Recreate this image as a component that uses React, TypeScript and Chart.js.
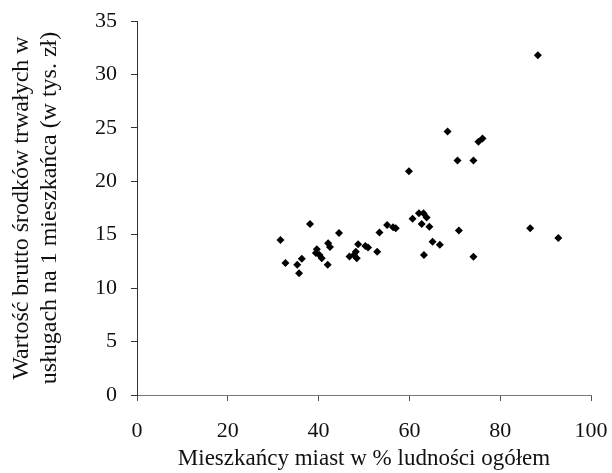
import React, { useEffect, useRef } from "react";
import { Chart, registerables } from "chart.js";

Chart.register(...registerables);

const xValues = [
  31.6, 32.7, 35.3, 36.3, 35.7, 38.1, 39.6, 39.4, 40.2, 40.7, 42.1, 42.5, 42.0, 44.5,
  46.8, 47.8, 48.2, 48.7, 48.4, 50.3, 50.9, 52.9, 53.4, 55.1, 56.4, 57.0, 59.9, 60.7,
  62.1, 63.1, 63.8, 62.7, 64.4, 63.2, 65.1, 66.7, 68.4, 70.6, 70.9, 74.1, 74.1, 75.2,
  76.1, 86.6, 88.3, 92.8,
];
const yValues = [
  14.5, 12.35, 12.2, 12.75, 11.4, 16.0, 13.65, 13.3, 13.1, 12.8, 14.2, 13.85, 12.2, 15.15,
  12.97, 13.1, 13.4, 14.1, 12.8, 13.95, 13.8, 13.4, 15.2, 15.9, 15.7, 15.6, 20.95, 16.5,
  17.0, 17.0, 16.6, 16.0, 15.75, 13.1, 14.35, 14.06, 24.66, 21.95, 15.4, 21.95, 12.94, 23.7,
  24.0, 15.6, 31.8, 14.7,
];
const xTicks = [0, 20, 40, 60, 80, 100];
const yTicks = [0, 5, 10, 15, 20, 25, 30, 35];
const xTitle = "Mieszkańcy miast w % ludności ogółem";
const yTitle = ["Wartość brutto środków trwałych w", "usługach na 1 mieszkańca (w tys. zł)"];

export default function App() {
  const ref = useRef<HTMLCanvasElement | null>(null);
  useEffect(() => {
    if (!ref.current) return;
    const family = "'Liberation Serif', 'Times New Roman', serif";
    const tickFont = { family, size: 22 };
    const chart = new Chart(ref.current, {
      type: "scatter",
      data: {
        datasets: [
          {
            data: xValues.map((x, i) => ({ x, y: yValues[i] })),
            pointStyle: "rectRot",
            pointRadius: 4,
            pointBackgroundColor: "#000",
            pointBorderColor: "#000",
            pointBorderWidth: 0,
          },
        ],
      },
      options: {
        animation: false,
        responsive: false,
        layout: { padding: { top: 21, right: 21, left: 0, bottom: 0 } },
        plugins: { legend: { display: false }, tooltip: { enabled: false } },
        scales: {
          x: {
            type: "linear",
            min: 0,
            max: 100,
            afterBuildTicks: (s: any) => {
              s.ticks = xTicks.map((v) => ({ value: v }));
            },
            afterFit: (s: any) => {
              s.height = 78;
              s.paddingRight = 0;
              s.paddingLeft = 0;
            },
            grid: { display: true, drawOnChartArea: false, drawTicks: true, tickLength: 6, tickColor: "#555" },
            border: { display: true, color: "#777", width: 1 },
            ticks: { color: "#111", font: tickFont, padding: 17, maxRotation: 0 },
            title: {
              display: true,
              text: xTitle,
              color: "#111",
              font: { family, size: 23 },
              padding: { top: 0, bottom: 0 },
            },
          },
          y: {
            type: "linear",
            min: 0,
            max: 35,
            afterBuildTicks: (s: any) => {
              s.ticks = yTicks.map((v) => ({ value: v }));
            },
            afterFit: (s: any) => {
              s.width = 137;
              s.paddingTop = 0;
              s.paddingBottom = 0;
            },
            grid: { display: true, drawOnChartArea: false, drawTicks: true, tickLength: 6, tickColor: "#333" },
            border: { display: true, color: "#333", width: 1 },
            ticks: { color: "#111", font: tickFont, padding: 14 },
            title: {
              display: true,
              text: yTitle,
              color: "#111",
              font: { family, size: 24, lineHeight: 1.17 },
              padding: { top: 8, bottom: 0 },
            },
          },
        },
      },
    });
    return () => chart.destroy();
  }, []);
  return (
    <div style={{ position: "fixed", left: 0, top: 0, width: 612, height: 473, background: "#fff" }}>
      <canvas ref={ref} width={612} height={473} style={{ display: "block" }} />
    </div>
  );
}
